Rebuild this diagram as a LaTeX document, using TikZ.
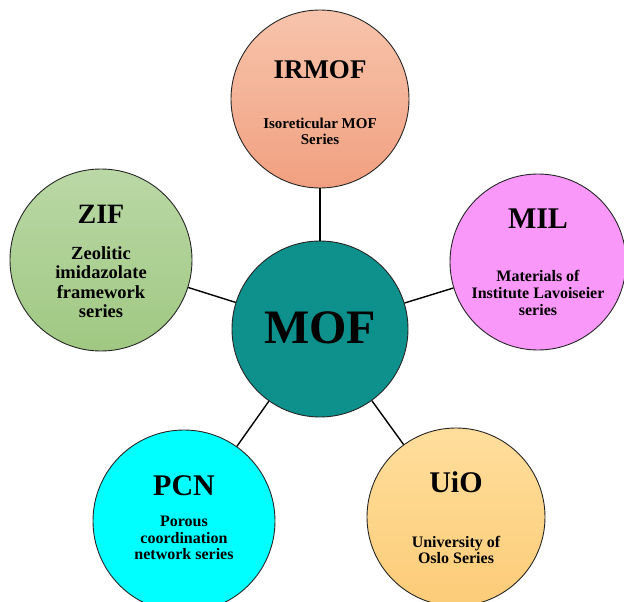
\documentclass[tikz,border=0pt]{standalone}
\usepackage{fontspec}
\setmainfont{Liberation Serif}
\usepackage{tikz}

\definecolor{mofteal}{RGB}{14,144,140}
\definecolor{irmofhi}{RGB}{247,196,172}
\definecolor{irmoflo}{RGB}{241,160,128}
\definecolor{zifhi}{RGB}{186,216,166}
\definecolor{ziflo}{RGB}{160,200,130}
\definecolor{milpink}{RGB}{250,152,250}
\definecolor{pcncyan}{RGB}{0,255,255}
\definecolor{uiohi}{RGB}{255,222,156}
\definecolor{uiolo}{RGB}{252,204,120}

\begin{document}
\begin{tikzpicture}[x=1pt,y=-1pt,
  bubble/.style={circle,draw=black!85,line width=0.9pt,minimum size=#1,inner sep=0pt},
  ttl/.style={font=\bfseries\fontsize{28pt}{30pt}\selectfont},
  sub/.style={font=\bfseries\fontsize{#1pt}{1.05\dimexpr#1pt\relax}\selectfont,align=center},
  link/.style={line width=1.4pt}]
\useasboundingbox (0,0) rectangle (624,602);
\node[bubble=178pt,top color=irmofhi,bottom color=irmoflo] (irmof) at (320,99) {};
\node[bubble=182pt,top color=zifhi,bottom color=ziflo] (zif) at (101,260) {};
\node[bubble=176pt,fill=milpink] (mil) at (538,262) {};
\node[bubble=182pt,fill=pcncyan] (pcn) at (184,521) {};
\node[bubble=178pt,top color=uiohi,bottom color=uiolo] (uio) at (456,517) {};
\node[bubble=176pt,fill=mofteal] (mof) at (320,329) {};
\draw[link] (mof) -- (irmof);
\draw[link] (mof) -- (zif);
\draw[link] (mof) -- (mil);
\draw[link] (mof) -- (pcn);
\draw[link] (mof) -- (uio);
\node[font=\bfseries\fontsize{48pt}{50pt}\selectfont] (mof-t) at (320,328) {MOF};
\node[ttl,font=\bfseries\fontsize{27pt}{29pt}\selectfont] (irmof-t) at (320,70) {IRMOF};
\node[sub=15] (irmof-s) at (320,131) {Isoreticular MOF\\Series};
\node[ttl] (zif-t) at (101,214) {ZIF};
\node[sub=18.5] (zif-s) at (101,282) {Zeolitic\\imidazolate\\framework\\series};
\node[ttl,font=\bfseries\fontsize{30pt}{32pt}\selectfont] (mil-t) at (538,219) {MIL};
\node[sub=16] (mil-s) at (538,293) {Materials of\\Institute Lavoiseier\\series};
\node[ttl,font=\bfseries\fontsize{30pt}{32pt}\selectfont] (pcn-t) at (184,486) {PCN};
\node[sub=16] (pcn-s) at (184,538) {Porous\\coordination\\network series};
\node[ttl,font=\bfseries\fontsize{30pt}{32pt}\selectfont] (uio-t) at (456,482) {UiO};
\node[sub=16] (uio-s) at (456,550) {University of\\Oslo Series};
\end{tikzpicture}
\end{document}
